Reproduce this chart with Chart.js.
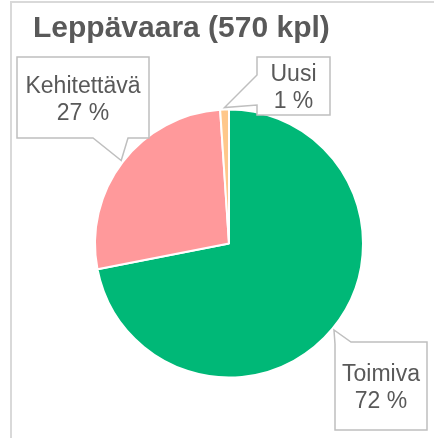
<!DOCTYPE html>
<html>
<head>
<meta charset="utf-8">
<script src="https://cdn.jsdelivr.net/npm/chart.js@4"></script>
<style>
  html, body { margin: 0; padding: 0; background: #ffffff; }
  #chart-pie { display: block; }
</style>
</head>
<body>
<canvas id="chart-pie" width="434" height="438"></canvas>
<script>
// --- Data ---
const chartTitle = 'Leppävaara (570 kpl)';
const categories = ['Toimiva', 'Kehitettävä', 'Uusi'];
const counts = [410, 154, 6];
const sliceColors = ['#00b877', '#ff999b', '#ffc78b'];

// callout boxes: [x, y, w, h], which edge carries the pointer, and the pointer base along it
const calloutLayout = [
  { box: [335, 342, 92, 88], edge: 'top', base: [335, 351] },
  { box: [17, 57, 132, 81], edge: 'bottom', base: [93, 128] },
  { box: [257, 57, 73, 58], edge: 'left', base: [75, 105] },
];

const textColor = '#595959';
const fontFamily = '"Liberation Sans", Arial, sans-serif';

// --- Frame + callout labels ---
const calloutPlugin = {
  id: 'callouts',
  beforeDraw(chart) {
    const ctx = chart.ctx;
    ctx.save();
    ctx.fillStyle = '#d9d9d9';
    ctx.fillRect(10, 1, chart.width - 10, 2);
    ctx.fillRect(10, 1, 2, chart.height - 1);
    ctx.restore();
  },
  afterDraw(chart) {
    const ctx = chart.ctx;
    const arcs = chart.getDatasetMeta(0).data;
    const total = counts.reduce((a, b) => a + b, 0);

    arcs.forEach((arc, i) => {
      const lay = calloutLayout[i];
      const { x, y, startAngle, endAngle, outerRadius } = arc.getProps(['x', 'y', 'startAngle', 'endAngle', 'outerRadius'], true);
      const mid = (startAngle + endAngle) / 2;
      const tipX = x + Math.cos(mid) * (outerRadius + 2);
      const tipY = y + Math.sin(mid) * (outerRadius + 2);

      const [bx, by, bw, bh] = lay.box;
      const [b0, b1] = lay.base;
      ctx.save();
      ctx.beginPath();
      if (lay.edge === 'bottom') {
        ctx.moveTo(bx, by);
        ctx.lineTo(bx + bw, by);
        ctx.lineTo(bx + bw, by + bh);
        ctx.lineTo(b1, by + bh);
        ctx.lineTo(tipX, tipY);
        ctx.lineTo(b0, by + bh);
        ctx.lineTo(bx, by + bh);
      } else if (lay.edge === 'left') {
        ctx.moveTo(bx, by);
        ctx.lineTo(bx + bw, by);
        ctx.lineTo(bx + bw, by + bh);
        ctx.lineTo(bx, by + bh);
        ctx.lineTo(bx, b1);
        ctx.lineTo(tipX, tipY);
        ctx.lineTo(bx, b0);
      } else {
        ctx.moveTo(b1, by);
        ctx.lineTo(bx + bw, by);
        ctx.lineTo(bx + bw, by + bh);
        ctx.lineTo(bx, by + bh);
        ctx.lineTo(bx, by + 2);
        ctx.lineTo(tipX, tipY);
      }
      ctx.closePath();
      ctx.fillStyle = '#ffffff';
      ctx.fill();
      ctx.strokeStyle = '#bfbfbf';
      ctx.lineWidth = 1.5;
      ctx.stroke();

      const pct = Math.round(counts[i] / total * 100) + ' %';
      ctx.fillStyle = textColor;
      ctx.font = `23px ${fontFamily}`;
      ctx.textAlign = 'center';
      ctx.textBaseline = 'middle';
      const cx = bx + bw / 2;
      const cy = by + bh / 2 + 2.5;
      ctx.fillText(categories[i], cx, cy - 13.5);
      ctx.fillText(pct, cx, cy + 13.5);
      ctx.restore();
    });
  },
};

// --- Chart ---
new Chart(document.getElementById('chart-pie'), {
  type: 'pie',
  data: {
    labels: categories,
    datasets: [{
      data: counts,
      backgroundColor: sliceColors,
      borderColor: '#ffffff',
      borderWidth: 2,
    }],
  },
  options: {
    responsive: false,
    devicePixelRatio: 1,
    animation: false,
    layout: { padding: { left: 33, right: 9, top: 0, bottom: 59.5 } },
    plugins: {
      legend: { display: false },
      tooltip: { enabled: false },
      title: {
        display: true,
        text: chartTitle,
        align: 'start',
        color: textColor,
        font: { family: fontFamily, size: 30, weight: 'bold', lineHeight: 1.2 },
        padding: { top: 11, bottom: 61.5 },
      },
    },
  },
  plugins: [calloutPlugin],
});
</script>
</body>
</html>
